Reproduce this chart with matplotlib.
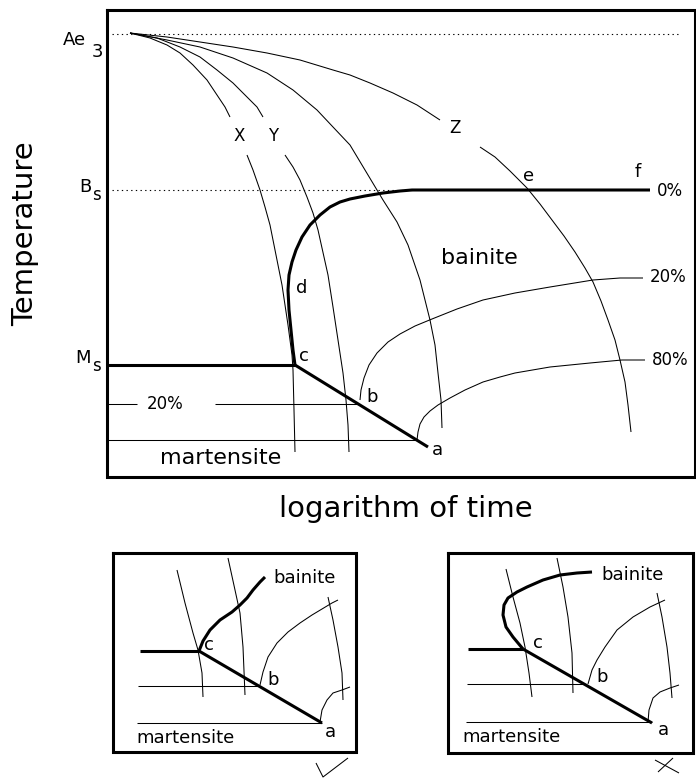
import matplotlib.pyplot as plt

# schematic coordinates: x = log time (px), y = temperature (px, inverted)
main_box = [(107, 10), (695, 10), (695, 477), (107, 477), (107, 10)]
ae3_line = [(112, 34), (678, 34)]
bs_line = [(112, 190), (413, 190)]

# cooling curves, each split around its label
curve_x = [[(130, 33), (150, 38), (167, 45), (180, 53), (193, 65), (207, 80),
            (217, 95), (225, 107), (230, 117)],
           [(247, 155), (253, 170), (260, 190), (265, 207), (270, 225),
            (274, 245), (278, 265), (282, 285), (285, 305), (288, 325),
            (290, 340), (292, 355), (293, 370), (294, 410), (295, 452)]]
curve_y = [[(130, 33), (157, 38), (180, 47), (200, 57), (217, 70), (233, 83),
            (247, 97), (257, 107), (263, 117)],
           [(285, 155), (293, 167), (300, 180), (307, 197), (313, 213),
            (318, 230), (322, 248), (328, 275), (333, 307), (338, 340),
            (343, 373), (346, 400), (348, 425), (349, 452)]]
curve_w = [[(130, 33), (167, 40), (200, 47), (233, 58), (267, 73), (293, 90),
            (317, 110), (333, 127), (350, 145), (365, 170), (383, 200),
            (397, 222), (408, 245), (420, 280), (430, 320), (435, 345),
            (438, 373), (441, 400), (442, 428)]]
curve_z = [[(130, 33), (167, 37), (200, 42), (233, 47), (267, 53), (300, 60),
            (333, 70), (350, 75), (370, 83), (393, 93), (417, 105), (440, 120)],
           [(480, 147), (495, 157), (510, 171), (527, 188), (540, 204),
            (552, 220), (564, 236), (575, 252), (585, 268), (593, 282),
            (601, 301), (608, 320), (615, 340), (620, 360), (625, 382),
            (628, 405), (631, 432)]]

bainite_0 = [(295, 365), (293, 350), (291, 330), (289, 310), (288, 290),
             (289, 275), (292, 262), (296, 250), (302, 237), (310, 225),
             (320, 215), (330, 207), (340, 202), (350, 199), (365, 196),
             (383, 193), (400, 191), (412, 190), (650, 190)]
ms_bold = [(107, 365), (295, 365)]
c_to_a = [(295, 365), (428, 447)]
line_20_left = [(107, 404), (137, 404)]
line_20_right = [(215, 404), (358, 404)]
line_bottom = [(107, 440), (417, 440)]
bainite_20 = [(360, 400), (361, 390), (364, 378), (369, 365), (377, 353),
              (388, 342), (400, 334), (415, 326), (432, 319), (457, 309),
              (483, 300), (515, 293), (550, 287), (593, 280), (620, 278),
              (643, 278)]
bainite_80 = [(417, 440), (418, 432), (420, 424), (424, 417), (430, 411),
              (438, 405), (450, 398), (465, 390), (483, 382), (500, 377),
              (515, 373), (550, 367), (590, 363), (622, 360), (645, 360)]

# lower left inset (correct)
left_box = [(113, 553), (356, 553), (356, 752), (113, 752), (113, 553)]
lb_x = [(177, 570), (185, 603), (193, 633), (198, 650), (202, 673), (203, 697)]
lb_y = [(228, 558), (235, 590), (240, 613), (243, 647), (245, 695)]
lb_bainite = [(199, 651), (203, 641), (210, 630), (220, 620), (232, 612),
              (240, 605), (247, 598), (253, 590), (260, 582), (265, 577)]
lb_ms = [(140, 651), (199, 651)]
lb_ca = [(199, 651), (322, 723)]
lb_mid = [(138, 686), (259, 686)]
lb_bot = [(137, 723), (322, 723)]
lb_20 = [(260, 685), (263, 672), (268, 657), (277, 643), (288, 632),
         (300, 623), (312, 615), (322, 609), (332, 603), (338, 600)]
lb_z = [(328, 597), (333, 620), (338, 647), (342, 673), (343, 700)]
lb_80 = [(320, 722), (322, 710), (327, 700), (333, 693), (342, 690), (350, 687)]
check_mark = [(316, 763), (323, 777), (348, 758)]

# lower right inset (wrong)
right_box = [(448, 553), (693, 553), (693, 753), (448, 753), (448, 553)]
rb_x = [(506, 569), (513, 597), (520, 623), (525, 647), (529, 673), (532, 697)]
rb_y = [(557, 558), (563, 587), (568, 617), (572, 653), (573, 693)]
rb_bainite = [(523, 649), (513, 637), (506, 627), (503, 615), (504, 605),
              (508, 598), (517, 592), (527, 587), (543, 580), (560, 575),
              (577, 573), (592, 572)]
rb_ms = [(468, 649), (523, 649)]
rb_ca = [(523, 649), (652, 723)]
rb_mid = [(467, 684), (584, 684)]
rb_bot = [(466, 722), (652, 722)]
rb_20 = [(588, 684), (592, 670), (597, 660), (605, 647), (617, 630),
         (633, 617), (650, 607), (665, 600)]
rb_z = [(657, 593), (662, 617), (667, 647), (670, 673), (672, 698)]
rb_80 = [(648, 722), (649, 710), (653, 698), (660, 692), (670, 688), (679, 685)]
cross_mark = [[(655, 760), (679, 773)], [(658, 772), (673, 758)]]

# text labels: (text, x, y, size)
labels = [
    ("Ae", 74, 40, 13), ("3", 97, 52, 13),
    ("B", 85, 187, 13), ("s", 96, 195, 12),
    ("M", 83, 358, 13), ("s", 96, 366, 12),
    ("X", 239, 136, 12), ("Y", 273, 136, 12), ("Z", 455, 128, 12),
    ("e", 529, 176, 13), ("f", 638, 172, 13), ("0%", 670, 191, 12),
    ("bainite", 479, 258, 16), ("20%", 668, 277, 12), ("80%", 670, 360, 12),
    ("d", 302, 288, 13), ("c", 304, 356, 13), ("b", 372, 397, 13),
    ("a", 437, 450, 13), ("20%", 165, 404, 12), ("martensite", 221, 458, 16),
    ("c", 209, 645, 13), ("b", 273, 680, 13), ("a", 330, 732, 13),
    ("bainite", 305, 578, 13), ("martensite", 185, 738, 13),
    ("c", 538, 643, 13), ("b", 602, 677, 13), ("a", 663, 730, 13),
    ("bainite", 633, 575, 13), ("martensite", 512, 737, 13),
]

thin = 0.75
bold = 2.2

fig = plt.figure(figsize=(6.96, 7.78), dpi=100)
ax = fig.add_axes([0, 0, 1, 1])
ax.set_xlim(0, 696)
ax.set_ylim(778, 0)
ax.axis("off")


def draw(pts, lw=thin, **kw):
    xs, ys = zip(*pts)
    ax.plot(xs, ys, color="black", lw=lw, solid_capstyle="butt",
            solid_joinstyle="round", **kw)


for box in [main_box, left_box, right_box]:
    xs, ys = zip(*box)
    ax.plot(xs, ys, color="black", lw=2.2, solid_joinstyle="miter")

for dotted in [ae3_line, bs_line]:
    xs, ys = zip(*dotted)
    ax.plot(xs, ys, color="black", lw=0.8, dashes=(1.2, 3.0))

for curve in [curve_x, curve_y, curve_w, curve_z]:
    for seg in curve:
        draw(seg)

for seg in [line_20_left, line_20_right, line_bottom, bainite_20, bainite_80,
            lb_x, lb_y, lb_mid, lb_bot, lb_20, lb_z, lb_80, check_mark,
            rb_x, rb_y, rb_mid, rb_bot, rb_20, rb_z, rb_80] + cross_mark:
    draw(seg)

for seg in [bainite_0, ms_bold, c_to_a, lb_bainite, lb_ms, lb_ca,
            rb_bainite, rb_ms, rb_ca]:
    draw(seg, lw=bold)

for txt, x, y, size in labels:
    ax.text(x, y, txt, fontsize=size, ha="center", va="center")

ax.text(25, 234, "Temperature", fontsize=21, rotation=90,
        ha="center", va="center")
ax.text(406, 509, "logarithm of time", fontsize=21, ha="center", va="center")

plt.savefig("out.png", dpi=100)
